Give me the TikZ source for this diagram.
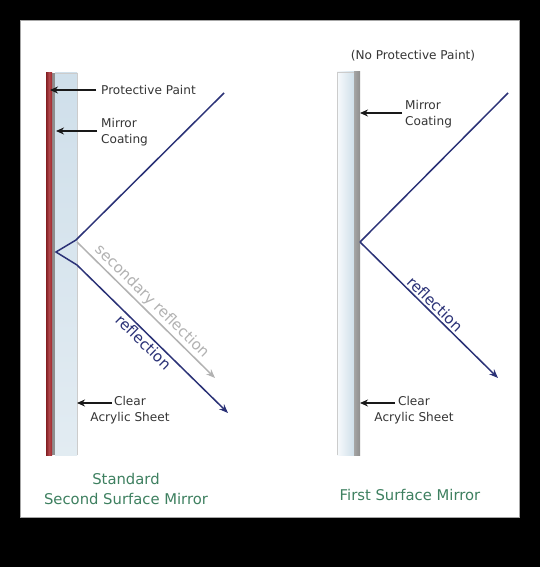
\documentclass[tikz,border=0pt]{standalone}
\usepackage{fontspec}
\setmainfont{DejaVu Sans}
\usetikzlibrary{arrows.meta}
\definecolor{paintred}{HTML}{A3262B}
\definecolor{raynavy}{HTML}{2B3277}
\definecolor{acrylic}{HTML}{CFDFEA}
\definecolor{coatgray}{HTML}{8E8E8E}
\definecolor{capgreen}{HTML}{3E8060}
\definecolor{labelgray}{HTML}{353535}
\tikzset{
  lbl/.style={font=\fontsize{12.1}{15.5}\selectfont, text=labelgray, inner sep=2pt},
  raylbl/.style={font=\fontsize{15}{17}\selectfont, sloped, inner sep=2pt},
  caption/.style={font=\fontsize{14.8}{20}\selectfont, text=capgreen, align=center},
  pointer/.style={-{Stealth[length=8pt,width=7pt]}, line width=1.5pt, black!90},
  ray/.style={raynavy, line width=1.5pt, line join=miter},
  rayarrow/.style={ray, -{Stealth[length=9pt,width=7pt]}},
  ghostray/.style={black!30, line width=1.5pt, -{Stealth[length=9pt,width=7pt]}}
}
\begin{document}
\begin{tikzpicture}[x=1pt, y=-1pt]
  %%%%% FRAME %%%%%
  \fill[black] (0,0) rectangle (540,567);
  \draw[black!35, fill=white, line width=0.8pt] (20,20) rectangle (519,517);
  \useasboundingbox (0,0) rectangle (540,567);

  %%%%% SECOND SURFACE MIRROR %%%%%
  \shade[top color=acrylic, bottom color=acrylic!60] (55,73) rectangle (77,455);
  \draw[black!20, line width=0.6pt] (77,73) -- (77,455) (55,73) -- (77,73);
  \fill[coatgray] (52,73) rectangle (55,455);
  \shade[left color=paintred!80!black, right color=paintred, middle color=paintred!85] (46,73) rectangle (52,455);

  \coordinate (inL) at (224,93);
  \coordinate (frontL) at (76,240);
  \coordinate (backL) at (56,252);
  \coordinate (exitL) at (77,265);
  \coordinate (outL) at (228,413);
  \coordinate (ghostA) at (77,242);
  \coordinate (ghostB) at (215,378);

  \draw[ghostray] (ghostA) -- node[raylbl, above, pos=0.49, text=black!30] {secondary reflection} (ghostB);
  \draw[ray] (inL) -- (frontL) -- (backL) -- (exitL);
  \draw[rayarrow] (exitL) -- node[raylbl, below, pos=0.48, text=raynavy] {reflection} (outL);

  \node[lbl, anchor=west] (paintL) at (99,90) {Protective Paint};
  \coordinate (paintTip) at (50,90);
  \draw[pointer] (paintL.west) ++(-3,0) -- (paintTip);

  \node[lbl, anchor=west, align=left] (coatL) at (99,132) {Mirror\\Coating};
  \coordinate (coatTailL) at (97,131);
  \coordinate (coatTipL) at (56,131);
  \draw[pointer] (coatTailL) -- (coatTipL);

  \node[lbl, align=center] (sheetL) at (130,410) {Clear\\Acrylic Sheet};
  \coordinate (sheetTailL) at (112,403);
  \coordinate (sheetTipL) at (77,403);
  \draw[pointer] (sheetTailL) -- (sheetTipL);

  \node[caption] (capL) at (126,489) {Standard\\Second Surface Mirror};

  %%%%% FIRST SURFACE MIRROR %%%%%
  \node[lbl] (noPaint) at (413,56) {(No Protective Paint)};

  \shade[left color=white!85!acrylic, right color=acrylic] (337,72) rectangle (354,455);
  \draw[black!20, line width=0.6pt] (337,72) -- (337,455) (337,72) -- (354,72);
  \shade[left color=coatgray!80, right color=coatgray] (354,72) rectangle (360,455);

  \coordinate (inR) at (508,93);
  \coordinate (hitR) at (360,242);
  \coordinate (outR) at (498,378);
  \draw[ray] (inR) -- (hitR);
  \draw[rayarrow] (hitR) -- node[raylbl, above, pos=0.5, text=raynavy] {reflection} (outR);

  \node[lbl, anchor=west, align=left] (coatR) at (403,114) {Mirror\\Coating};
  \coordinate (coatTailR) at (402,113);
  \coordinate (coatTipR) at (360,113);
  \draw[pointer] (coatTailR) -- (coatTipR);

  \node[lbl, align=center] (sheetR) at (414,410) {Clear\\Acrylic Sheet};
  \coordinate (sheetTailR) at (395,403);
  \coordinate (sheetTipR) at (360,403);
  \draw[pointer] (sheetTailR) -- (sheetTipR);

  \node[caption] (capR) at (410,495) {First Surface Mirror};
\end{tikzpicture}
\end{document}
